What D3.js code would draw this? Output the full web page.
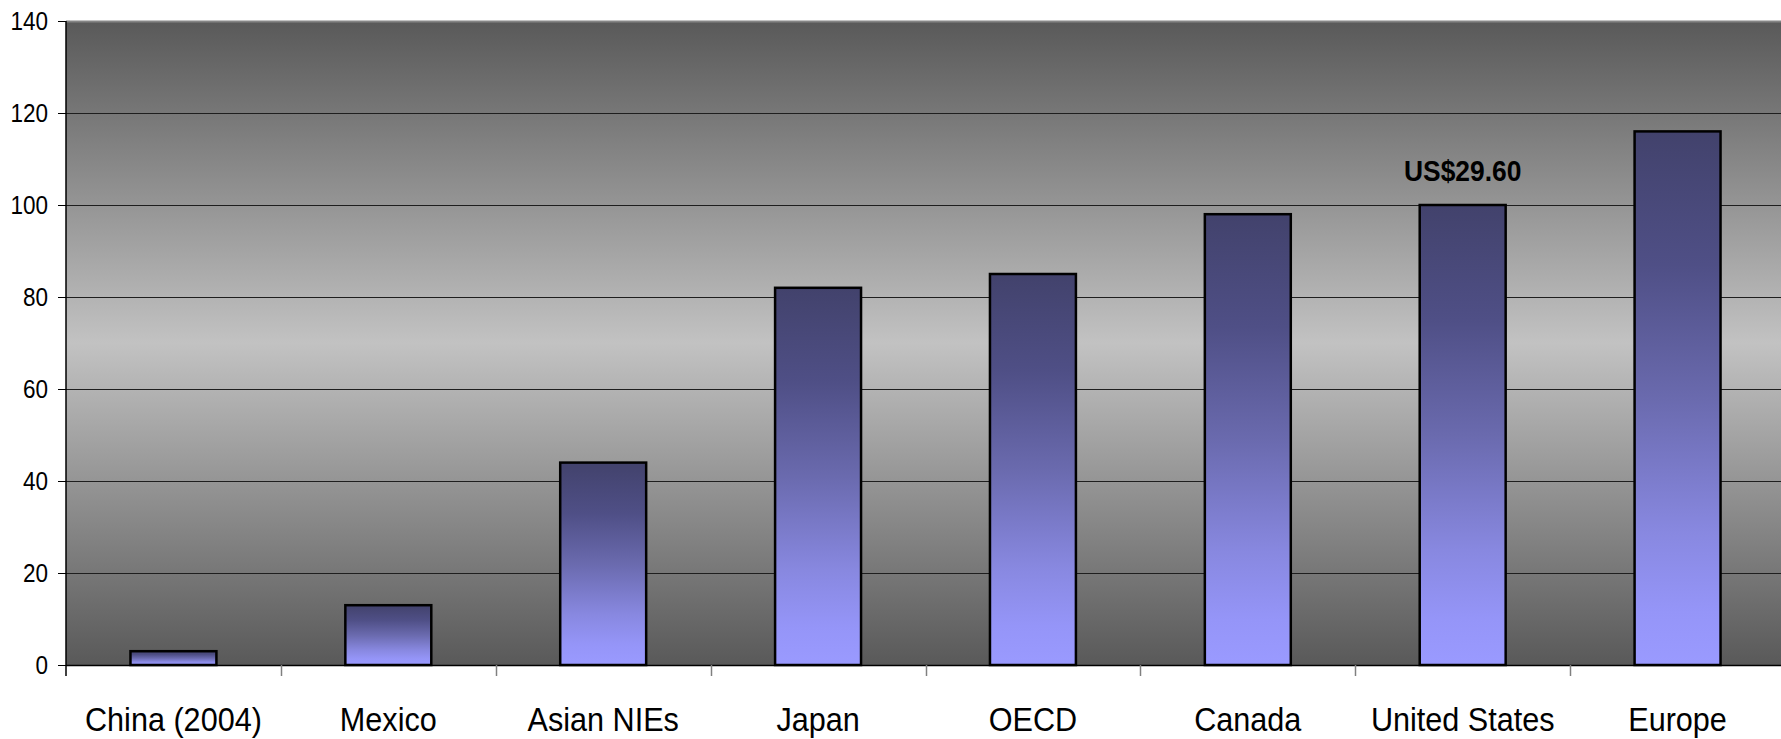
<!DOCTYPE html>
<html>
<head>
<meta charset="utf-8">
<script src="https://cdn.jsdelivr.net/npm/d3@7"></script>
<style>
  html, body { margin: 0; padding: 0; background: #fff; }
  svg { display: block; }
  text { font-family: "Liberation Sans", Arial, sans-serif; fill: #000; }
</style>
</head>
<body>
<svg id="chart" width="1781" height="739"></svg>
<script>
// Hourly labour cost index by region (United States = 100)
const categories = ["China (2004)", "Mexico", "Asian NIEs", "Japan", "OECD", "Canada", "United States", "Europe"];
const values = [3, 13, 44, 82, 85, 98, 100, 116];
const yTicks = [0, 20, 40, 60, 80, 100, 120, 140];
const callout = { category: "United States", text: "US$29.60" };

const svg = d3.select("#chart");
const W = 1781, H = 739;
const plot = { left: 66, top: 21, right: 1785, bottom: 665 };

const x = d3.scaleBand().domain(categories).range([plot.left, plot.right]).paddingInner(0.6).paddingOuter(0.3);
const xOuter = d3.scaleBand().domain(categories).range([plot.left, plot.right]);
const y = d3.scaleLinear().domain([0, 140]).range([plot.bottom, plot.top]);

const defs = svg.append("defs");
const bg = defs.append("linearGradient").attr("id", "bgGrad").attr("x1", 0).attr("y1", 0).attr("x2", 0).attr("y2", 1);
[[0, "#595959"], [0.5, "#c2c2c2"], [1, "#595959"]].forEach(([o, c]) =>
  bg.append("stop").attr("offset", o).attr("stop-color", c));

const barGrad = defs.append("linearGradient").attr("id", "barGrad").attr("x1", 0).attr("y1", 0).attr("x2", 0).attr("y2", 1);
[[0, "#42426c"], [0.25, "#4f4f86"], [0.5, "#6a6aae"], [0.75, "#8888e0"], [0.9, "#9595f8"], [1, "#9a9aff"]].forEach(([o, c]) =>
  barGrad.append("stop").attr("offset", o).attr("stop-color", c));

// plot background
svg.append("rect")
  .attr("x", plot.left).attr("y", plot.top)
  .attr("width", plot.right - plot.left).attr("height", plot.bottom - plot.top)
  .attr("fill", "url(#bgGrad)");

// top border of plot area
svg.append("line")
  .attr("x1", plot.left).attr("x2", W).attr("y1", plot.top + 0.5).attr("y2", plot.top + 0.5)
  .attr("stroke", "#858585").attr("stroke-width", 2);

// gridlines
svg.append("g").selectAll("line").data(yTicks.filter(d => d > 0 && d < 140)).join("line")
  .attr("x1", plot.left).attr("x2", W)
  .attr("y1", d => Math.round(y(d)) + 0.5).attr("y2", d => Math.round(y(d)) + 0.5)
  .attr("stroke", "#1e1e1e").attr("stroke-width", 1);

// bars
svg.append("g").selectAll("rect").data(values).join("rect")
  .attr("x", (d, i) => x(categories[i]))
  .attr("y", d => y(d))
  .attr("width", x.bandwidth())
  .attr("height", d => y(0) - y(d))
  .attr("fill", "url(#barGrad)")
  .attr("stroke", "#000").attr("stroke-width", 2.5);

// y axis
const yAxis = d3.axisLeft(y).tickValues(yTicks).tickSize(8).tickPadding(10).tickFormat(d3.format("d"));
const gy = svg.append("g").attr("transform", `translate(${plot.left},0)`).call(yAxis);
gy.select(".domain").attr("stroke", "#000").attr("stroke-width", 1.5)
  .attr("d", `M0,${plot.top}V${plot.bottom + 11}`);
gy.selectAll(".tick line").attr("stroke", "#000");
gy.selectAll(".tick text")
  .attr("font-size", 25).attr("dy", "0.35em")
  .attr("transform", function () { return `translate(-18,0) scale(0.9,1)`; })
  .attr("x", 0).attr("text-anchor", "end");

// x axis baseline
svg.append("line")
  .attr("x1", plot.left).attr("x2", W).attr("y1", plot.bottom + 0.5).attr("y2", plot.bottom + 0.5)
  .attr("stroke", "#000").attr("stroke-width", 1.5);

// category separator ticks
svg.append("g").selectAll("line").data(categories.slice(1)).join("line")
  .attr("x1", d => Math.round(xOuter(d)) + 0.5).attr("x2", d => Math.round(xOuter(d)) + 0.5)
  .attr("y1", plot.bottom).attr("y2", plot.bottom + 11)
  .attr("stroke", "#808080").attr("stroke-width", 1.5);

// category labels
svg.append("g").selectAll("text").data(categories).join("text")
  .attr("transform", d => `translate(${xOuter(d) + xOuter.bandwidth() / 2},731) scale(0.9,1)`)
  .attr("text-anchor", "middle")
  .attr("font-size", 34)
  .text(d => d);

// callout above the United States bar
const ci = categories.indexOf(callout.category);
svg.append("text")
  .attr("transform", `translate(${x(callout.category) + x.bandwidth() / 2},${y(values[ci]) - 24}) scale(0.88,1)`)
  .attr("text-anchor", "middle")
  .attr("font-size", 30).attr("font-weight", "bold")
  .text(callout.text);
</script>
</body>
</html>
